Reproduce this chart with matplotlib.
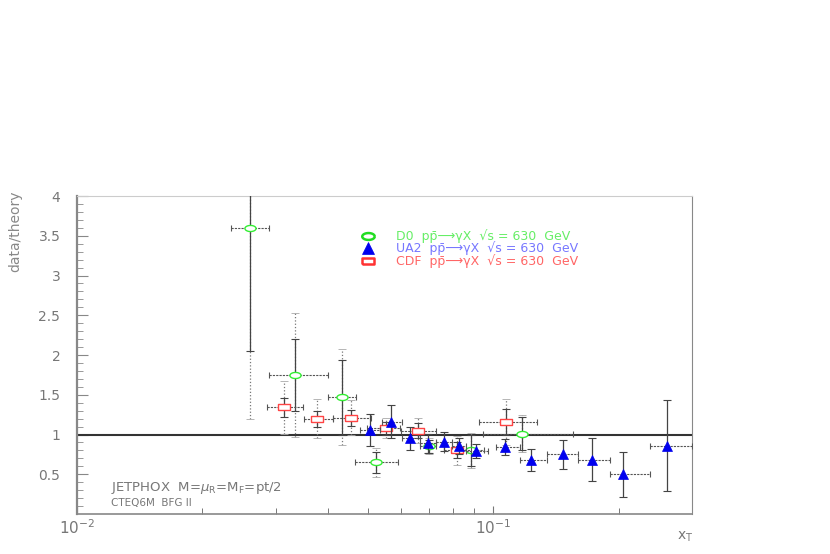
import numpy as np
import matplotlib
matplotlib.use("Agg")
import matplotlib.pyplot as plt
from matplotlib.ticker import FixedLocator, NullFormatter

# D0 data (x_T, ratio, stat error, total error, bin edges)
d0_x = [0.0261, 0.0333, 0.0432, 0.0524, 0.0699, 0.0884, 0.1174]
d0_y = [3.60, 1.75, 1.47, 0.65, 0.85, 0.80, 1.01]
d0_stat = [1.55, 0.45, 0.47, 0.13, 0.08, 0.20, 0.21]
d0_tot = [2.41, 0.78, 0.60, 0.18, 0.10, 0.22, 0.23]
d0_lo = [0.0234, 0.0289, 0.0400, 0.0466, 0.0668, 0.0830, 0.0946]
d0_hi = [0.0289, 0.0400, 0.0468, 0.0589, 0.0729, 0.0950, 0.1557]

# UA2 data
ua2_x = [0.0505, 0.0569, 0.0632, 0.0697, 0.0761, 0.0826, 0.0910,
         0.1066, 0.1229, 0.1474, 0.1723, 0.2053, 0.2620]
ua2_y = [1.06, 1.16, 0.95, 0.89, 0.91, 0.86, 0.79,
         0.84, 0.68, 0.75, 0.68, 0.50, 0.86]
ua2_err = [0.20, 0.21, 0.14, 0.12, 0.12, 0.10, 0.09,
           0.10, 0.14, 0.18, 0.27, 0.28, 0.57]
ua2_lo = [0.0477, 0.0540, 0.0603, 0.0668, 0.0727, 0.0797, 0.0861,
          0.1017, 0.1161, 0.1349, 0.1595, 0.1911, 0.2384]
ua2_hi = [0.0535, 0.0603, 0.0668, 0.0727, 0.0797, 0.0861, 0.0973,
          0.1161, 0.1346, 0.1595, 0.1911, 0.2384, 0.3000]

# CDF data
cdf_x = [0.0315, 0.0378, 0.0454, 0.0553, 0.0661, 0.0818, 0.1071]
cdf_y = [1.34, 1.20, 1.21, 1.08, 1.05, 0.80, 1.16]
cdf_stat = [0.12, 0.10, 0.10, 0.08, 0.10, 0.10, 0.16]
cdf_tot = [0.33, 0.25, 0.22, 0.13, 0.16, 0.18, 0.29]
cdf_lo = [0.0286, 0.0350, 0.0413, 0.0498, 0.0600, 0.0760, 0.0924]
cdf_hi = [0.0349, 0.0413, 0.0508, 0.0598, 0.0730, 0.0882, 0.1274]

y_ticks = [0.5, 1, 1.5, 2, 2.5, 3, 3.5, 4]
y_ticklabels = ["0.5", "1", "1.5", "2", "2.5", "3", "3.5", "4"]

# marker shapes: flat ellipse and flat rectangle like the PAW output
t = np.linspace(0, 2 * np.pi, 41)
ellipse = list(zip(np.cos(t), 0.55 * np.sin(t)))
rect = [(-1, -0.55), (1, -0.55), (1, 0.55), (-1, 0.55), (-1, -0.55)]

fig = plt.figure(figsize=(8.3, 5.54), dpi=100)
ax = fig.add_axes([0.0928, 0.0722, 0.7409, 0.574])
ax.set_xscale("log")
ax.set_xlim(0.01, 0.3)
ax.set_ylim(0, 4)

grey = "#555555"


def xerr_of(x, lo, hi):
    x = np.array(x)
    return [x - np.array(lo), np.array(hi) - x]


def draw_set(x, y, lo, hi, stat, tot, marker, ms, mfc, mec, mew, z):
    # total error (dotted)
    if tot is not None:
        eb = ax.errorbar(x, y, yerr=tot, fmt="none", ecolor="#777777", elinewidth=0.9,
                         capsize=0, zorder=z)
        eb[2][0].set_linestyle(":")
        ax.errorbar(x, y, yerr=tot, fmt="none", ecolor="#aaaaaa",
                    elinewidth=0, capsize=3, capthick=0.6, zorder=z)
    # x bins (dashed)
    eb = ax.errorbar(x, y, xerr=xerr_of(x, lo, hi), fmt="none", ecolor=grey,
                     elinewidth=0.8, capsize=2.5, capthick=0.8, zorder=z)
    eb[2][0].set_linestyle((0, (2, 1)))
    # statistical error (solid)
    ax.errorbar(x, y, yerr=stat, fmt="none", ecolor="#444444", elinewidth=0.9,
                capsize=3, capthick=0.8, zorder=z + 0.1)
    ax.plot(x, y, linestyle="none", marker=marker, ms=ms, mfc=mfc, mec=mec,
            mew=mew, zorder=z + 0.2)


draw_set(d0_x, d0_y, d0_lo, d0_hi, d0_stat, d0_tot, ellipse, 8, "white", "#33ee33", 1.0, 3)
draw_set(cdf_x, cdf_y, cdf_lo, cdf_hi, cdf_stat, cdf_tot, rect, 8, "white", "#ff4444", 1.0, 4)
draw_set(ua2_x, ua2_y, ua2_lo, ua2_hi, ua2_err, None, "^", 6.5, "#0000ee", "#0000ee", 0.5, 5)

ax.axhline(1, color="#333333", lw=1.5, zorder=2)

# axes styling
for side in ["left", "bottom", "right", "top"]:
    ax.spines[side].set_color("#888888")
ax.spines["left"].set_linewidth(1.6)
ax.spines["bottom"].set_linewidth(1.2)
ax.spines["top"].set_color("#cccccc")

ax.yaxis.set_major_locator(FixedLocator(y_ticks))
ax.yaxis.set_minor_locator(FixedLocator(np.arange(0.1, 4.0, 0.1)))
ax.set_yticklabels(y_ticklabels)
ax.tick_params(axis="y", which="major", direction="in", length=8, width=0.8,
               color="#888888", labelcolor="#777777", labelsize=10, pad=12,
               left=True, right=False)
ax.tick_params(axis="y", which="minor", direction="in", length=4, width=0.7,
               color="#999999", left=True, right=False)

ax.xaxis.set_major_locator(FixedLocator([0.01, 0.1]))
ax.xaxis.set_minor_locator(FixedLocator([0.02, 0.03, 0.04, 0.05, 0.06, 0.07,
                                         0.08, 0.09, 0.2]))
ax.xaxis.set_minor_formatter(NullFormatter())
ax.set_xticklabels([r"$10^{-2}$", r"$10^{-1}$"])
ax.tick_params(axis="x", which="major", direction="in", length=6, width=0.8,
               color="#777777", labelcolor="#777777", labelsize=11, pad=3,
               top=False)
ax.tick_params(axis="x", which="minor", direction="in", length=4, width=0.7,
               color="#777777", top=False)

# legend drawn by hand (plain text, no mathtext, so rows stay compact)
proc = "pp\u0304\u27f6\u03b3X  \u221as = 630  GeV"
leg_rows = [
    (ellipse, "white", "#22dd22", "D0  " + proc, "#66ee66", 0.875),
    ("^", "#0000ee", "#0000ee", "UA2  " + proc, "#7777ff", 0.835),
    (rect, "white", "#ff3333", "CDF  " + proc, "#ff6666", 0.795),
]
for mk, fc, ec, label, tc, yy in leg_rows:
    ax.plot([0.4727], [yy], transform=ax.transAxes, marker=mk, ms=9, mfc=fc,
            mec=ec, mew=1.8 if fc == "white" else 0.5, linestyle="none",
            clip_on=False)
    ax.text(0.5187, yy, label, transform=ax.transAxes, color=tc, fontsize=9,
            va="center", ha="left")

ax.text(0.055, 0.082, r"JETPHOX  M=$\mu_{\rm R}$=M$_{\rm F}$=pt/2", transform=ax.transAxes,
        color="#777777", fontsize=9.5, va="center")
ax.text(0.055, 0.035, "CTEQ6M  BFG II", transform=ax.transAxes, color="#777777",
        fontsize=7.5, va="center")

fig.text(15 / 830, 1 - 231 / 554, "data/theory", rotation=90, color="#888888",
         fontsize=10, ha="center", va="center")
fig.text(685 / 830, 1 - 537 / 554, r"x$_{\rm T}$", color="#777777", fontsize=10,
         ha="center", va="center")

fig.savefig("out.png", dpi=100)
